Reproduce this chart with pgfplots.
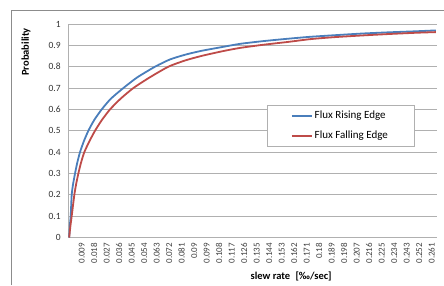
\documentclass[border=0pt]{standalone}
\usepackage{pgfplots}
\pgfplotsset{compat=1.18}
\usepackage{fontspec}
\setmainfont{Carlito}
\definecolor{xlblue}{HTML}{4A7EBB}
\definecolor{xlred}{HTML}{BE4B48}
\definecolor{gridgray}{HTML}{B0B0B0}
\definecolor{framegray}{HTML}{8C8C8C}
\begin{document}
\begin{tikzpicture}
\useasboundingbox (0,0) rectangle (444pt,285pt);
\draw[framegray,line width=0.8pt] (11pt,0pt) -- (11pt,275pt) -- (444pt,275pt);
\begin{axis}[
  at={(68.5pt,47.5pt)}, anchor=south west,
  scale only axis, width=368pt, height=213.5pt,
  xmin=-0.0005, xmax=0.2645, ymin=0, ymax=1,
  axis line style={gridgray},
  axis x line*=bottom, axis y line*=left,
  xtick={0.009,0.018,0.027,0.036,0.045,0.054,0.063,0.072,0.081,0.09,0.099,0.108,0.117,0.126,0.135,0.144,0.153,0.162,0.171,0.18,0.189,0.198,0.207,0.216,0.225,0.234,0.243,0.252,0.261},
  xticklabels={0.009,0.018,0.027,0.036,0.045,0.054,0.063,0.072,0.081,0.09,0.099,0.108,0.117,0.126,0.135,0.144,0.153,0.162,0.171,0.18,0.189,0.198,0.207,0.216,0.225,0.234,0.243,0.252,0.261},
  minor xtick={0,0.002,...,0.264},
  xtick style={draw=none},
  minor tick length=3pt,
  minor x tick style={gridgray, line width=0.4pt},
  tick align=outside,
  xticklabel style={rotate=90, anchor=east, font=\fontsize{9}{10}\selectfont, text=black!75, inner sep=1pt},
  ytick={0,0.1,...,1.01},
  yticklabels={0,0.1,0.2,0.3,0.4,0.5,0.6,0.7,0.8,0.9,1},
  ytick style={draw=none},
  yticklabel style={font=\fontsize{9.5}{10}\selectfont, text=black!80},
  ymajorgrids, major grid style={gridgray, line width=0.7pt},
  xlabel={\textbf{slew rate\enspace[‰/sec]}},
  xlabel style={font=\fontsize{10.5}{12}\selectfont, at={(axis description cs:0.605,0)}, anchor=center, yshift=-38.5pt},
  ylabel={\textbf{Probability}},
  ylabel style={font=\fontsize{10.5}{12}\selectfont, at={(rel axis cs:-0.1155,0.869)}, anchor=center},
  legend style={at={(rel axis cs:0.5386,0.6206)}, anchor=north west, draw=gridgray, fill=white, font=\fontsize{11}{12}\selectfont, row sep=7pt, inner xsep=24pt, inner ysep=4pt},
  legend cell align=left,
  legend image code/.code={\draw[#1, line width=1.8pt] (0pt,0pt) -- (20pt,0pt);},
  clip=false,
]
\addplot[xlblue, line width=1.8pt, smooth, tension=0.4] coordinates {
(0,0) (0.0005,0.06) (0.0011,0.1) (0.0018,0.2) (0.0028,0.25) (0.0042,0.3) (0.0058,0.35) (0.0078,0.4) (0.0105,0.45) (0.0138,0.5) (0.018,0.55) (0.0234,0.6) (0.030,0.65) (0.039,0.7) (0.049,0.75) (0.0618,0.8) (0.0726,0.834) (0.0834,0.856) (0.095,0.874) (0.11,0.892) (0.123,0.907) (0.14,0.92) (0.1575,0.931) (0.1735,0.94) (0.19,0.947) (0.21,0.955) (0.23,0.961) (0.25,0.966) (0.264,0.97)
};
\addlegendentry{Flux Rising Edge}
\addplot[xlred, line width=1.8pt, smooth, tension=0.4] coordinates {
(0,0) (0.0008,0.05) (0.0018,0.1) (0.0037,0.2) (0.005,0.25) (0.0066,0.3) (0.0085,0.35) (0.0109,0.4) (0.0145,0.45) (0.0186,0.5) (0.0235,0.55) (0.0294,0.6) (0.037,0.65) (0.0462,0.7) (0.058,0.75) (0.0714,0.8) (0.0834,0.829) (0.095,0.85) (0.11,0.872) (0.123,0.888) (0.14,0.903) (0.1575,0.916) (0.1735,0.929) (0.19,0.938) (0.21,0.946) (0.23,0.953) (0.25,0.959) (0.264,0.962)
};
\addlegendentry{Flux Falling Edge}
\end{axis}
\end{tikzpicture}
\end{document}
